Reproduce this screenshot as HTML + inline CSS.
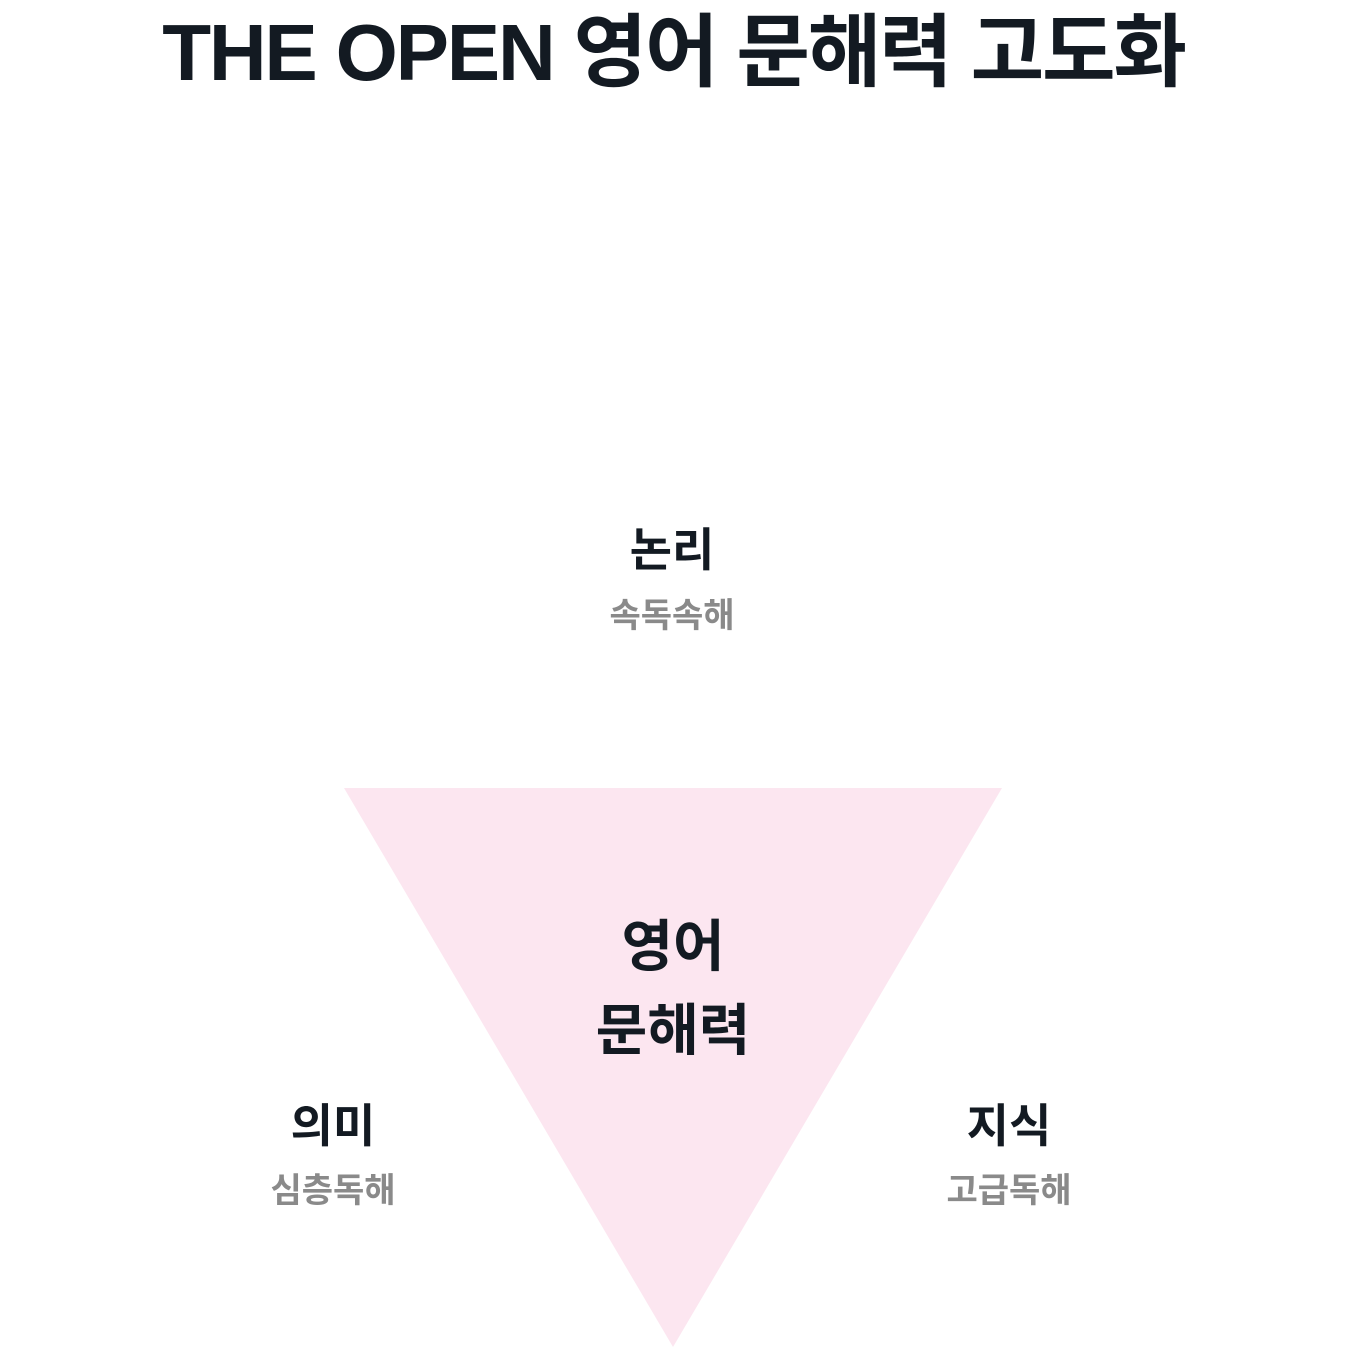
<!DOCTYPE html>
<html><head><meta charset="utf-8"><style>
html,body{margin:0;padding:0;background:#fff;}
body{width:1347px;height:1348px;position:relative;overflow:hidden;font-family:"Liberation Sans","Noto Sans CJK KR",sans-serif;color:#131a22;}
.t{position:absolute;left:0;width:1347px;text-align:center;white-space:nowrap;}
.l{position:absolute;text-align:center;white-space:nowrap;transform:translateX(-50%);line-height:1;}
.b{font-weight:700;font-size:46px;}
.g{font-weight:700;font-size:34px;color:#8a8a8a;}
</style></head><body>
<div class="t" style="top:3px;font-size:80px;font-weight:700;letter-spacing:-2.2px;line-height:100px;">THE OPEN 영어 문해력 고도화</div>
<svg style="position:absolute;left:0;top:0" width="1347" height="1348"><polygon points="344,788 1002,788 673,1347" fill="#fce6f0"/></svg>
<div class="l b" style="left:672px;top:527px;">논리</div>
<div class="l g" style="left:672px;top:599px;">속독속해</div>
<div class="l b" style="left:673px;top:905px;font-size:56px;line-height:84px;">영어<br>문해력</div>
<div class="l b" style="left:333px;top:1103px;">의미</div>
<div class="l g" style="left:333px;top:1174px;">심층독해</div>
<div class="l b" style="left:1009px;top:1103px;">지식</div>
<div class="l g" style="left:1009px;top:1174px;">고급독해</div>
</body></html>
